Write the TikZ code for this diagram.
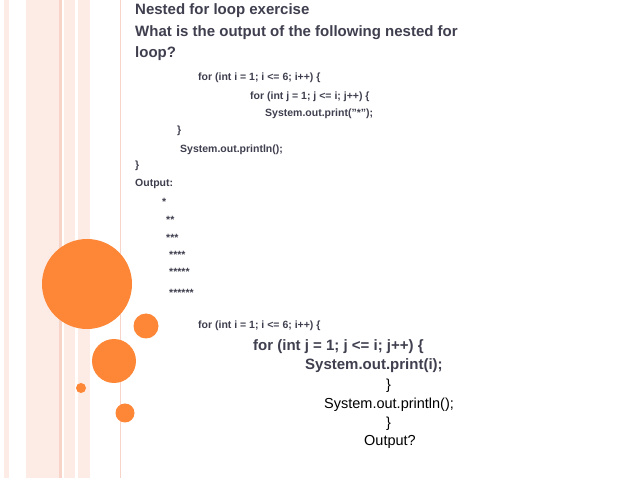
\documentclass[tikz,border=0pt]{standalone}
\usepackage{fontspec}
\setmainfont{Liberation Sans}
\begin{document}
\begin{tikzpicture}[x=1pt,y=-1pt,
  t/.style={anchor=west,inner sep=0pt,text=txt,font=\bfseries\fontsize{15}{17}\selectfont},
  c/.style={anchor=west,inner sep=0pt,text=txt,font=\bfseries\fontsize{10.5}{12}\selectfont},
  cb/.style={anchor=west,inner sep=0pt,text=txt,font=\bfseries\fontsize{15}{17}\selectfont},
  cr/.style={anchor=west,inner sep=0pt,text=black,font=\fontsize{14.5}{17}\selectfont},
  dot/.style={fill=orng,draw=none}]
\definecolor{txt}{HTML}{3F3F4F}
\definecolor{orng}{HTML}{FD8637}
\definecolor{pk}{HTML}{FDEBE5}
\definecolor{pk2}{HTML}{F8D4C8}
\useasboundingbox (0,0) rectangle (638,478);
\fill[white] (0,0) rectangle (638,478);
\fill[pk] (4,0) rectangle (9,478);
\fill[pk] (26,0) rectangle (60,478);
\fill[pk2] (59,0) rectangle (62,478);
\fill[pk] (64,0) rectangle (75,478);
\fill[pk] (78,0) rectangle (90,478);
\draw[pk2,line width=0.8] (120,0) -- (120,478);
\fill[dot] (87,284) circle (45);
\fill[dot] (146,326) circle (12.5);
\fill[dot] (114,361) circle (22);
\fill[dot] (81,388) circle (5);
\fill[dot] (125,413) circle (9.5);
\node[t] (h1) at (135,11) {Nested for loop exercise};
\node[t] (h2) at (135,33) {What is the output of the following nested for};
\node[t] (h3) at (135,54) {loop?};
\node[c] (a1) at (198,78) {for (int i = 1; i <= 6; i++) \{};
\node[c] (a2) at (250,97) {for (int j = 1; j <= i; j++) \{};
\node[c] (a3) at (265,114) {System.out.print("*");};
\node[c] (a4) at (177,131) {\}};
\node[c] (a5) at (180,150) {System.out.println();};
\node[c] (a6) at (135,166) {\}};
\node[c] (a7) at (135,184) {Output:};
\node[c] (s1) at (162,202) {*};
\node[c] (s2) at (166,220) {**};
\node[c] (s3) at (166,238) {***};
\node[c] (s4) at (169,255) {****};
\node[c] (s5) at (169,272) {*****};
\node[c] (s6) at (169,293) {******};
\node[c] (b1) at (198,326) {for (int i = 1; i <= 6; i++) \{};
\node[cb] (b2) at (253,347) {for (int j = 1; j <= i; j++) \{};
\node[cb] (b3) at (305,366) {System.out.print(i);};
\node[cr] (b4) at (386,386) {\}};
\node[cr] (b5) at (324,405) {System.out.println();};
\node[cr] (b6) at (386,424) {\}};
\node[cr] (b7) at (364,442) {Output?};
\end{tikzpicture}
\end{document}
